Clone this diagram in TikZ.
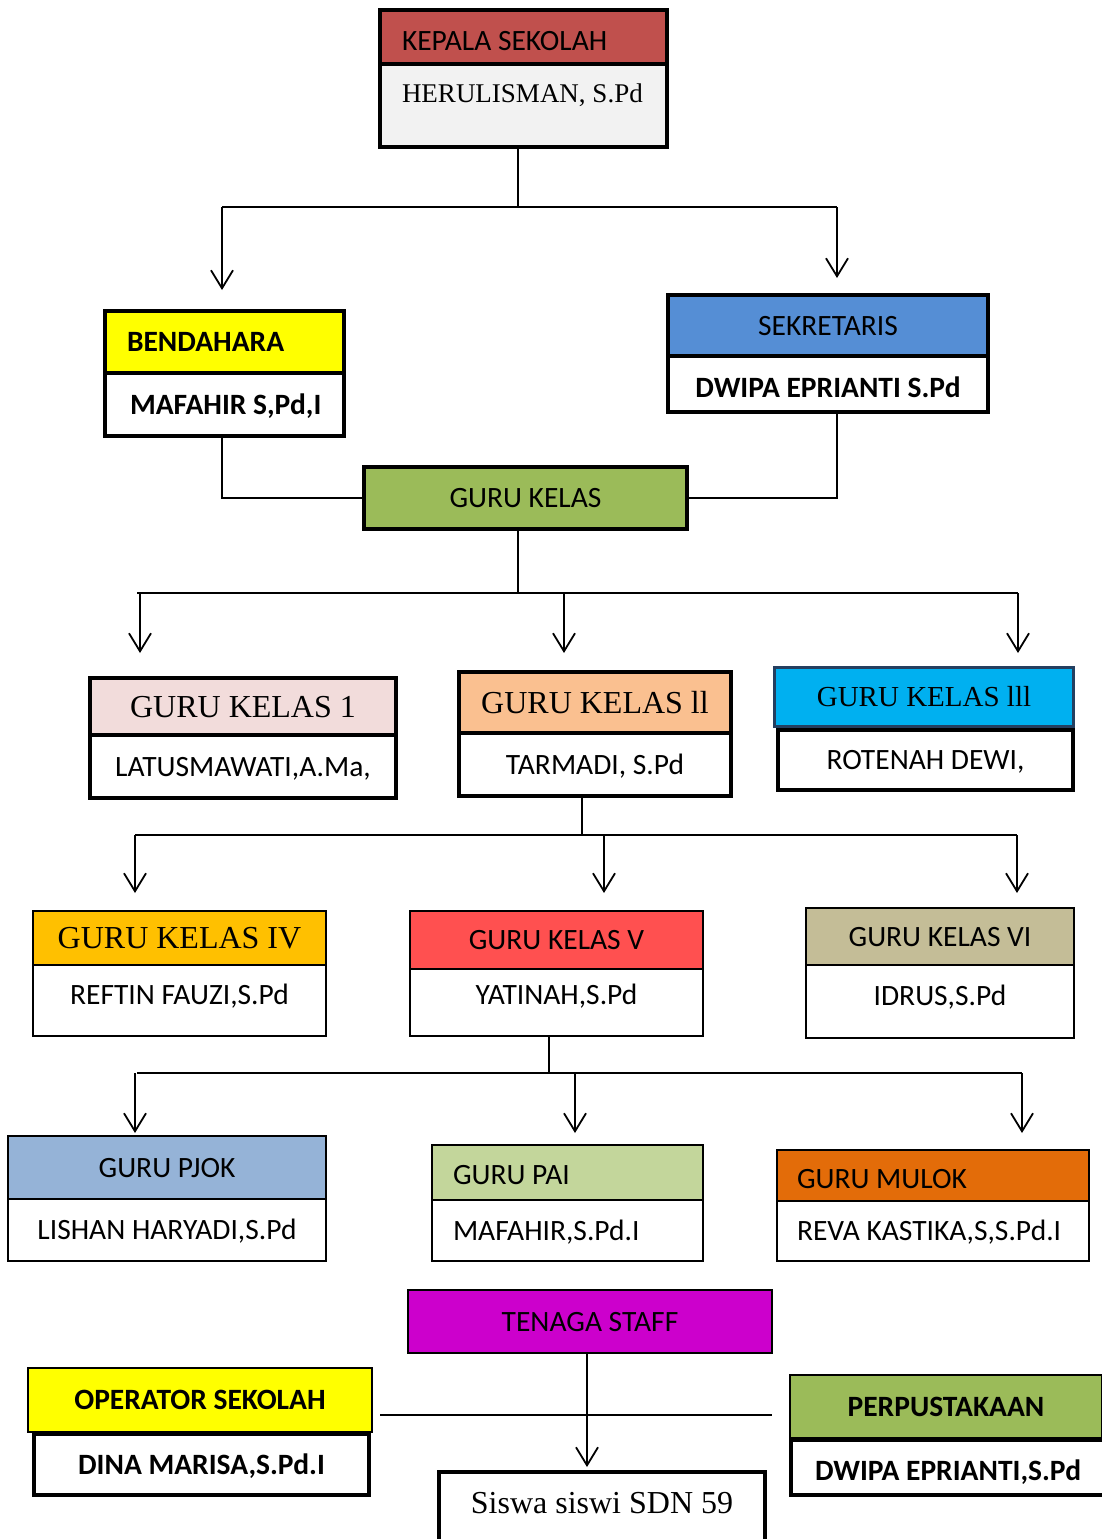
\documentclass[tikz,border=0pt]{standalone}
\usepackage{fontspec}
\setmainfont{Liberation Serif}
\newfontfamily\sansf{Carlito}
\usetikzlibrary{arrows.meta}
\definecolor{cKep}{HTML}{C0504D}
\definecolor{cKepB}{HTML}{F2F2F2}
\definecolor{cYel}{HTML}{FFFF00}
\definecolor{cSek}{HTML}{558ED5}
\definecolor{cGrn}{HTML}{9BBB59}
\definecolor{cPink}{HTML}{F2DCDB}
\definecolor{cPeach}{HTML}{FAC090}
\definecolor{cCyan}{HTML}{00B0F0}
\definecolor{cNavy}{HTML}{243F60}
\definecolor{cGold}{HTML}{FFC000}
\definecolor{cRed}{HTML}{FF5050}
\definecolor{cTan}{HTML}{C4BD97}
\definecolor{cBlue}{HTML}{95B3D7}
\definecolor{cLime}{HTML}{C3D69B}
\definecolor{cOrg}{HTML}{E36C09}
\definecolor{cMag}{HTML}{CC00CC}
\begin{document}
\begin{tikzpicture}[x=1pt,y=-1pt,
  bx/.style={draw, rectangle, anchor=north west, outer sep=0pt, inner xsep=4pt, inner ysep=0pt, align=center},
  thickbx/.style={bx, line width=4pt},
  thinbx/.style={bx, line width=1.2pt},
  sanstxt/.style={font=\sansf\fontsize{29.5}{31}\selectfont, text height=19pt, text depth=0pt},
  boldtxt/.style={font=\sansf\bfseries\fontsize{29.5}{31}\selectfont, text height=19pt, text depth=0pt},
  seriftxt/.style={font=\fontsize{32}{34}\selectfont, text height=21pt, text depth=0pt},
  conn/.style={line width=1.8pt},
  arr/.style={conn, -{Straight Barb[length=18pt,width=22pt,line width=1.8pt]}}
]
\fill[white] (0,0) rectangle (1102,1539);
\useasboundingbox (0,0) rectangle (1102,1539);

% ---- Kepala sekolah
\node[thickbx, sanstxt, fill=cKep, minimum width=287, minimum height=54, align=flush left, inner xsep=22pt, text width=243pt, text height=27pt] (kh) at (380,10) {\mbox{KEPALA SEKOLAH}};
\node[thickbx, font=\fontsize{27}{29}\selectfont, fill=cKepB, minimum width=287, minimum height=83, align=flush left, inner xsep=22pt, text width=243pt, text height=19pt, text depth=26pt] (kb) at (380,64) {\mbox{HERULISMAN, S.Pd}};

% ---- Bendahara
\node[thickbx, boldtxt, fill=cYel, minimum width=239, minimum height=62, align=flush left, inner xsep=22pt, text width=195pt] (bh) at (105,311) {\mbox{BENDAHARA}};
\node[thickbx, boldtxt, fill=white, minimum width=239, minimum height=63, align=flush left, inner xsep=25pt, text width=189pt] (bb) at (105,373) {\mbox{MAFAHIR S,Pd,I}};

% ---- Sekretaris
\node[thickbx, sanstxt, fill=cSek, minimum width=320, minimum height=61] (sh) at (668,295) {SEKRETARIS};
\node[thickbx, boldtxt, fill=white, minimum width=320, minimum height=56, text height=27pt] (sb) at (668,356) {DWIPA EPRIANTI S.Pd};

% ---- Guru kelas
\node[thickbx, sanstxt, fill=cGrn, minimum width=323, minimum height=62] (gk) at (364,467) {GURU KELAS};

% ---- Guru kelas 1-3
\node[thickbx, seriftxt, fill=cPink, minimum width=306, minimum height=57] (g1h) at (90,678) {GURU KELAS 1};
\node[thickbx, sanstxt, fill=white, minimum width=306, minimum height=63] (g1b) at (90,735) {LATUSMAWATI,A.Ma,};
\node[thickbx, seriftxt, fill=cPeach, minimum width=272, minimum height=61] (g2h) at (459,672) {GURU KELAS ll};
\node[thickbx, sanstxt, fill=white, minimum width=272, minimum height=63] (g2b) at (459,733) {TARMADI, S.Pd};
\node[bx, line width=3pt, draw=cNavy, font=\fontsize{29}{31}\selectfont, text height=19pt, text depth=0pt, fill=cCyan, minimum width=299, minimum height=58.5] (g3h) at (774.5,667.5) {GURU KELAS lll};
\node[thickbx, sanstxt, fill=white, minimum width=295, minimum height=60] (g3b) at (778,730) {ROTENAH DEWI,};

% ---- Guru kelas 4-6
\node[thinbx, seriftxt, fill=cGold, minimum width=293, minimum height=54] (g4h) at (33,911) {GURU KELAS IV};
\node[thinbx, sanstxt, fill=white, minimum width=293, minimum height=71, text depth=12pt] (g4b) at (33,965) {REFTIN FAUZI,S.Pd};
\node[thinbx, sanstxt, fill=cRed, minimum width=293, minimum height=58] (g5h) at (410,911) {GURU KELAS V};
\node[thinbx, sanstxt, fill=white, minimum width=293, minimum height=67, text depth=16pt] (g5b) at (410,969) {YATINAH,S.Pd};
\node[thinbx, sanstxt, fill=cTan, minimum width=268, minimum height=57] (g6h) at (806,908) {GURU KELAS VI};
\node[thinbx, sanstxt, fill=white, minimum width=268, minimum height=73, text depth=11pt] (g6b) at (806,965) {IDRUS,S.Pd};

% ---- Guru mapel
\node[thinbx, sanstxt, fill=cBlue, minimum width=318, minimum height=63] (pjh) at (8,1136) {GURU PJOK};
\node[thinbx, sanstxt, fill=white, minimum width=318, minimum height=62] (pjb) at (8,1199) {LISHAN HARYADI,S.Pd};
\node[thinbx, sanstxt, fill=cLime, minimum width=271, minimum height=55, align=flush left, inner xsep=21pt, text width=229pt, text height=23pt] (pah) at (432,1145) {\mbox{GURU PAI}};
\node[thinbx, sanstxt, fill=white, minimum width=271, minimum height=61, align=flush left, inner xsep=21pt, text width=229pt] (pab) at (432,1200) {\mbox{MAFAHIR,S.Pd.I}};
\node[thinbx, sanstxt, fill=cOrg, minimum width=312, minimum height=51, align=flush left, inner xsep=20pt, text width=272pt, text height=25pt] (muh) at (777,1150) {\mbox{GURU MULOK}};
\node[thinbx, sanstxt, fill=white, minimum width=312, minimum height=60, align=flush left, inner xsep=20pt, text width=272pt] (mub) at (777,1201) {\mbox{REVA KASTIKA,S,S.Pd.I}};

% ---- Tenaga staff
\node[thinbx, sanstxt, fill=cMag, minimum width=364, minimum height=63] (ts) at (408,1290) {TENAGA STAFF};
\node[thinbx, boldtxt, fill=cYel, minimum width=344, minimum height=64] (oph) at (28,1368) {OPERATOR SEKOLAH};
\node[thickbx, boldtxt, fill=white, minimum width=335, minimum height=61] (opb) at (34,1434) {DINA MARISA,S.Pd.I};
\node[thinbx, boldtxt, fill=cGrn, minimum width=312, minimum height=63] (peh) at (790,1375) {PERPUSTAKAAN};
\node[thickbx, boldtxt, fill=white, minimum width=330, minimum height=55, align=flush left, inner xsep=24pt, text width=282pt, text height=25pt] (peb) at (791,1440) {\mbox{DWIPA EPRIANTI,S.Pd}};
\node[thickbx, seriftxt, fill=white, minimum width=326, minimum height=75, text depth=13pt] (sw) at (439,1472) {Siswa siswi SDN 59};

% ---- coordinates
\coordinate (j1) at (518,207);
\coordinate (j1l) at (222,207);
\coordinate (j1r) at (837,207);
\coordinate (a1) at (222,290);
\coordinate (a2) at (837,278);
\coordinate (j3) at (518,593);
\coordinate (j3l) at (137,593);
\coordinate (j3r) at (1018,593);
\coordinate (b1) at (140,653);
\coordinate (b2) at (564,653);
\coordinate (b3) at (1018,653);
\coordinate (j4) at (582,835);
\coordinate (j4l) at (135,835);
\coordinate (j4r) at (1017,835);
\coordinate (c1) at (135,893);
\coordinate (c2) at (604,893);
\coordinate (c3) at (1017,893);
\coordinate (j5) at (549,1073);
\coordinate (j5l) at (137,1073);
\coordinate (j5r) at (1022,1073);
\coordinate (d1) at (135,1133);
\coordinate (d2) at (575,1133);
\coordinate (d3) at (1022,1133);
\coordinate (h1) at (380,1415);
\coordinate (h2) at (772,1415);
\coordinate (e1) at (587,1467);

% ---- connectors
\draw[conn] (kb.south -| j1) -- (j1);
\draw[conn] (j1l) -- (j1r);
\draw[arr] (j1l) -- (a1);
\draw[arr] (j1r) -- (a2);
\draw[conn] (bb.south -| j1l) |- (gk.west);
\draw[conn] (sb.south -| j1r) |- (gk.east);
\draw[conn] (gk.south -| j3) -- (j3);
\draw[conn] (j3l) -- (j3r);
\draw[arr] (b1 |- j3) -- (b1);
\draw[arr] (b2 |- j3) -- (b2);
\draw[arr] (j3r) -- (b3);
\draw[conn] (g2b.south -| j4) -- (j4);
\draw[conn] (j4l) -- (j4r);
\draw[arr] (j4l) -- (c1);
\draw[arr] (c2 |- j4) -- (c2);
\draw[arr] (j4r) -- (c3);
\draw[conn] (g5b.south -| j5) -- (j5);
\draw[conn] (j5l) -- (j5r);
\draw[arr] (d1 |- j5) -- (d1);
\draw[arr] (d2 |- j5) -- (d2);
\draw[arr] (j5r) -- (d3);
\draw[conn] (h1) -- (h2);
\draw[arr] (ts.south -| e1) -- (e1);
\end{tikzpicture}
\end{document}
